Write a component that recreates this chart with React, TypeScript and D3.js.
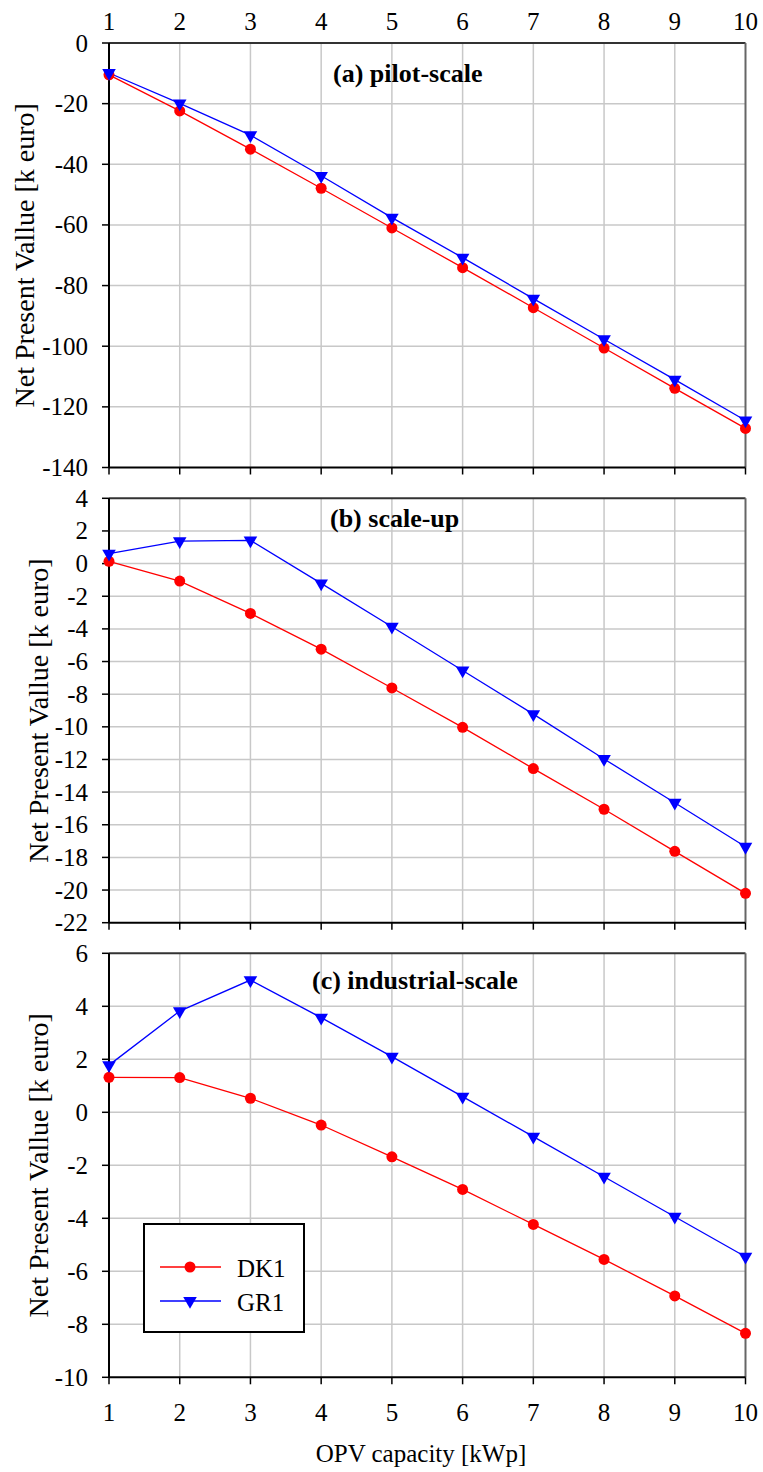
import React from 'react';
import * as d3 from 'd3';

// OPV capacity [kWp]
const capacity = [1, 2, 3, 4, 5, 6, 7, 8, 9, 10];

// Net present value [k euro]
const pilotDK1 = [-10.5, -22.4, -35.0, -47.9, -61.0, -74.1, -87.3, -100.6, -113.9, -127.1];
const pilotGR1 = [-9.9, -19.9, -30.4, -43.8, -57.6, -70.8, -84.3, -97.7, -111.0, -124.5];
const scaleupDK1 = [0.14, -1.07, -3.05, -5.24, -7.62, -10.03, -12.56, -15.05, -17.63, -20.2];
const scaleupGR1 = [0.61, 1.38, 1.42, -1.21, -3.87, -6.55, -9.22, -11.97, -14.65, -17.35];
const industrialDK1 = [1.32, 1.31, 0.53, -0.48, -1.68, -2.91, -4.23, -5.55, -6.93, -8.34];
const industrialGR1 = [1.78, 3.82, 4.99, 3.57, 2.1, 0.59, -0.92, -2.43, -3.94, -5.45];

const pilotTicks = [0, -20, -40, -60, -80, -100, -120, -140];
const scaleupTicks = [4, 2, 0, -2, -4, -6, -8, -10, -12, -14, -16, -18, -20, -22];
const industrialTicks = [6, 4, 2, 0, -2, -4, -6, -8, -10];

const panelTitles = ['(a) pilot-scale', '(b) scale-up', '(c) industrial-scale'];
const seriesNames = ['DK1', 'GR1'];

const FONT = "Tinos, 'Liberation Serif', 'Times New Roman', serif";
const RED = '#ff0000';
const BLUE = '#0000ff';
const GRID = '#c8c8c8';

const width = 763;
const height = 1472;
const left = 109;
const right = 745.5;

const x = d3.scaleLinear().domain([1, 10]).range([left, right]);
const triangle = d3.symbol(d3.symbolTriangle, 80)();

const panels = [
    { top: 43, bottom: 467.5, ticks: pilotTicks, dk: pilotDK1, gr: pilotGR1, title: panelTitles[0], tx: 333, ty: 82, ytx: 34 },
    { top: 498.3, bottom: 922.7, ticks: scaleupTicks, dk: scaleupDK1, gr: scaleupGR1, title: panelTitles[1], tx: 330, ty: 527, ytx: 48 },
    { top: 953.3, bottom: 1377.3, ticks: industrialTicks, dk: industrialDK1, gr: industrialGR1, title: panelTitles[2], tx: 312, ty: 989, ytx: 48 },
];

function Panel({ p }) {
    const y = d3.scaleLinear()
        .domain([d3.min(p.ticks), d3.max(p.ticks)])
        .range([p.bottom, p.top]);
    const line = d3.line<number>()
        .x((d, i) => x(capacity[i]))
        .y(d => y(d));

    return (
        <g>
            {p.ticks.slice(1, -1).map(t => (
                <line key={'h' + t} x1={left} x2={right} y1={y(t)} y2={y(t)} stroke={GRID} strokeWidth={1.5} />
            ))}
            {capacity.slice(1, -1).map(c => (
                <line key={'v' + c} x1={x(c)} x2={x(c)} y1={p.top} y2={p.bottom} stroke={GRID} strokeWidth={1.5} />
            ))}

            {/* frame */}
            <line x1={left} x2={right} y1={p.top} y2={p.top} stroke="#333" strokeWidth={2} />
            <line x1={right} x2={right} y1={p.top} y2={p.bottom} stroke="#666" strokeWidth={2} />
            <line x1={left} x2={right} y1={p.bottom} y2={p.bottom} stroke="#000" strokeWidth={2} />
            <line x1={left} x2={left} y1={p.top} y2={p.bottom} stroke="#000" strokeWidth={2} />

            {/* ticks */}
            {p.ticks.map(t => (
                <g key={'yt' + t}>
                    <line x1={left - 7} x2={left} y1={y(t)} y2={y(t)} stroke="#000" strokeWidth={1.5} />
                    <text x={88} y={y(t) + 8.5} textAnchor="end" fontSize={25}>{t}</text>
                </g>
            ))}
            {capacity.map(c => (
                <line key={'xt' + c} x1={x(c)} x2={x(c)} y1={p.bottom} y2={p.bottom + 7} stroke="#000" strokeWidth={1.5} />
            ))}

            <text transform={'translate(' + p.ytx + ',' + ((p.top + p.bottom) / 2) + ') rotate(-90)'}
                textAnchor="middle" fontSize={28}>Net Present Vallue [k euro]</text>

            <text x={p.tx} y={p.ty} fontSize={26} fontWeight="bold">{p.title}</text>

            <path d={line(p.dk)} fill="none" stroke={RED} strokeWidth={1.3} />
            <path d={line(p.gr)} fill="none" stroke={BLUE} strokeWidth={1.3} />
            {p.dk.map((v, i) => (
                <circle key={'c' + i} cx={x(capacity[i])} cy={y(v)} r={5.5} fill={RED} />
            ))}
            {p.gr.map((v, i) => (
                <path key={'t' + i} d={triangle} transform={'translate(' + x(capacity[i]) + ',' + y(v) + ') rotate(180)'} fill={BLUE} />
            ))}
        </g>
    );
}

function App() {
    const legendRows = [
        { name: seriesNames[0], color: RED, y: 1267 },
        { name: seriesNames[1], color: BLUE, y: 1301 },
    ];
    return (
        <svg width={width} height={height} fontFamily={FONT}
            style={{ position: 'absolute', left: 0, top: 0, background: '#fff', fontFamily: FONT }}>
            {panels.map((p, i) => <Panel key={i} p={p} />)}

            {capacity.map(c => (
                <text key={'top' + c} x={x(c)} y={30} textAnchor="middle" fontSize={25}>{c}</text>
            ))}
            {capacity.map(c => (
                <text key={'bot' + c} x={x(c)} y={1421} textAnchor="middle" fontSize={25}>{c}</text>
            ))}
            <text x={421} y={1462} textAnchor="middle" fontSize={25}>OPV capacity [kWp]</text>

            {/* legend */}
            <rect x={144} y={1224} width={160} height={108} fill="#fff" stroke="#000" strokeWidth={2} />
            {legendRows.map((r, i) => (
                <g key={r.name}>
                    <line x1={160} x2={221} y1={r.y} y2={r.y} stroke={r.color} strokeWidth={1.3} />
                    {i === 0
                        ? <circle cx={190} cy={r.y} r={5.5} fill={r.color} />
                        : <path d={triangle} transform={'translate(190,' + r.y + ') rotate(180)'} fill={r.color} />}
                    <text x={237} y={r.y + 9.5} fontSize={25}>{r.name}</text>
                </g>
            ))}
        </svg>
    );
}

export default App;
